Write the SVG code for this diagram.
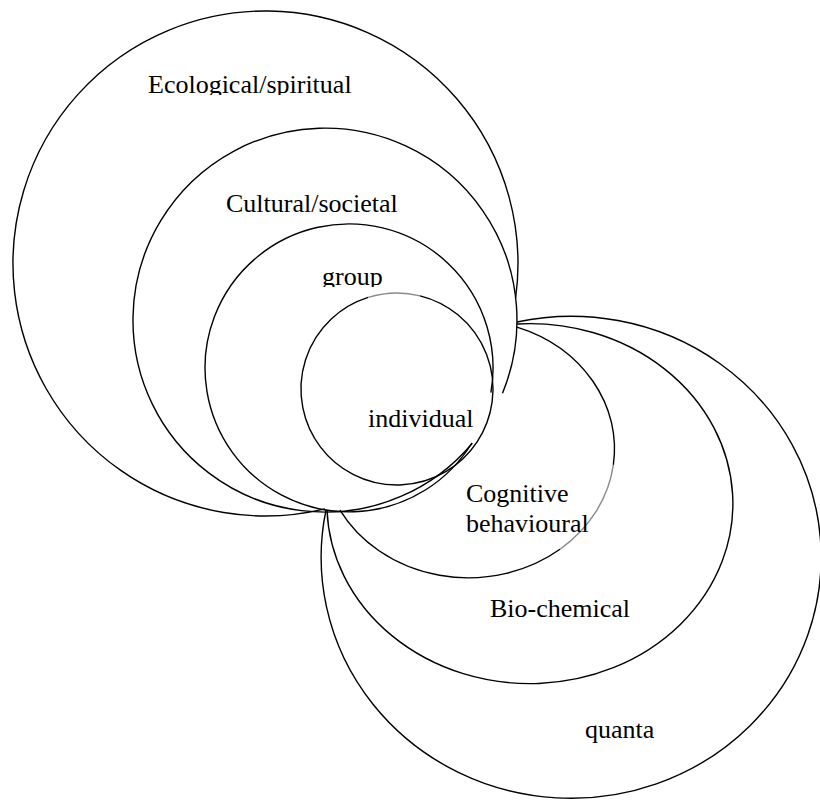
<svg xmlns="http://www.w3.org/2000/svg" width="820" height="802" viewBox="0 0 820 802">
<style>
.ln{fill:none;stroke:#000;stroke-width:1.4}
.gr{fill:none;stroke:#8a8a8a;stroke-width:1.4}
.lb{font-family:"Liberation Serif","Times New Roman",serif;font-size:26px;fill:#000}
</style>
<defs>
<clipPath id="clipEco"><rect x="0" y="0" width="820" height="95"/></clipPath>
<clipPath id="clipGroup"><rect x="0" y="240" width="820" height="47"/></clipPath>
</defs>
<rect width="820" height="802" fill="#fff"/>
<g id="ecological">
<path class="ln" d="M515.6,298 A252.5,252.5 0 1,0 324.9,508.9"/>
<text class="lb" x="148" y="93" clip-path="url(#clipEco)">Ecological/spiritual</text>
</g>
<g id="cultural">
<path class="ln" d="M502.5,393.2 A192,192 0 1,0 472.3,443.2"/>
<text class="lb" x="226" y="212">Cultural/societal</text>
</g>
<g id="group">
<path class="ln" d="M490.9,392.6 A144,144 0 1,0 471.9,443"/>
<text class="lb" x="322" y="285" clip-path="url(#clipGroup)">group</text>
</g>
<g id="individual">
<path class="ln" d="M420.06,295.81 A96,96 0 1,1 368.13,297.44"/>
<path class="gr" d="M368.13,297.44 A96,96 0 0,1 420.06,295.81"/>
<text class="lb" x="368" y="427">individual</text>
</g>
<g id="cognitive">
<path class="ln" d="M517,327.1 A146,129 0 0,1 613.35,464.97"/>
<path class="gr" d="M613.35,464.97 A146,129 0 0,1 560,549.3"/>
<path class="ln" d="M560,549.3 A146,129 0 0,1 340,510.1"/>
<text class="lb" x="466" y="502">Cognitive</text>
<text class="lb" x="466" y="532">behavioural</text>
</g>
<g id="biochemical">
<path class="ln" d="M517,324 A203,180 0 1,1 327,510"/>
<text class="lb" x="490" y="617">Bio-chemical</text>
</g>
<g id="quanta">
<path class="ln" d="M517,322 A250,241 0 1,1 326,510"/>
<text class="lb" x="585" y="738">quanta</text>
</g>
</svg>
